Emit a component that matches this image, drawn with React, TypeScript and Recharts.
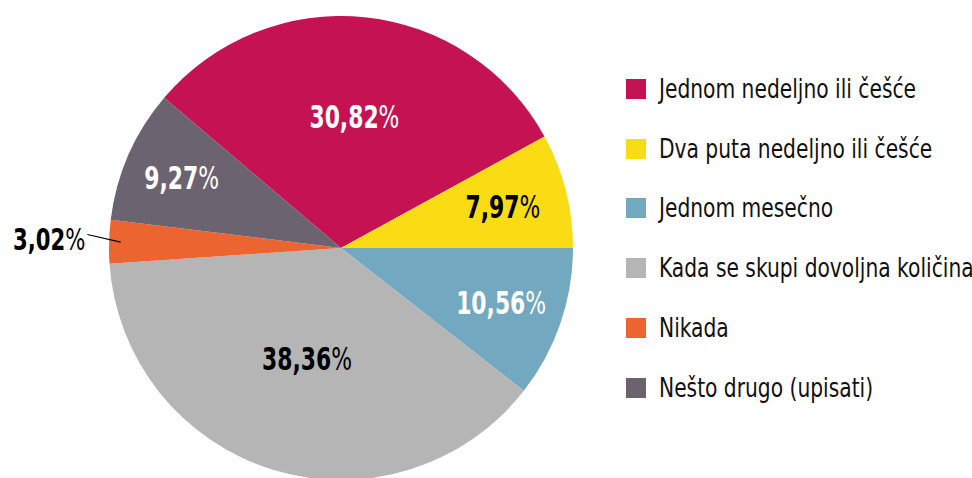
import React from 'react';
import { PieChart, Pie, Cell, Legend } from 'recharts';

const categories = [
  'Jednom nedeljno ili češće',
  'Dva puta nedeljno ili češće',
  'Jednom mesečno',
  'Kada se skupi dovoljna količina',
  'Nikada',
  'Nešto drugo (upisati)',
];
const shares = [30.82, 7.97, 10.56, 38.36, 3.02, 9.27];
const labels = ['30,82', '7,97', '10,56', '38,36', '3,02', '9,27'];

const colors = ['#C41252', '#FADC14', '#72A9C0', '#B5B5B5', '#EC6531', '#6C6370'];
const labelColors = ['#fff', '#000', '#fff', '#000', '#000', '#fff'];
// how far out along the radius each label sits
const labelRadius = [0.57, 0.72, 0.73, 0.5, 0, 0.75];

const FONT = '"DejaVu Sans Condensed", "DejaVu Sans", sans-serif';
const SQUEEZE = 0.76;
const RAD = Math.PI / 180;

const data = categories.map((name, i) => ({ name, value: shares[i], label: labels[i] }));

const renderLabel = (props: any) => {
  const { cx, cy, midAngle, outerRadius, index } = props;
  const text = (
    <>
      <tspan fontWeight={700}>{labels[index]}</tspan>
      <tspan fontWeight={400}>%</tspan>
    </>
  );
  if (index === 4) {
    // small slice: label outside with a leader line
    const x1 = cx + outerRadius * 0.95 * Math.cos(-midAngle * RAD);
    const y1 = cy + outerRadius * 0.95 * Math.sin(-midAngle * RAD);
    const x2 = cx + (outerRadius + 22) * Math.cos(-(midAngle - 1.5) * RAD);
    const y2 = cy + (outerRadius + 22) * Math.sin(-(midAngle - 1.5) * RAD);
    return (
      <g>
        <line x1={x1} y1={y1} x2={x2} y2={y2} stroke="#000" strokeWidth={1.2} />
        <text
          transform={`translate(${x2 - 2},${y2 + 4}) scale(${SQUEEZE},1)`}
          textAnchor="end"
          dominantBaseline="central"
          fill="#000"
          fontFamily={FONT}
          fontSize={31}
        >
          {text}
        </text>
      </g>
    );
  }
  const r = outerRadius * labelRadius[index];
  const x = cx + r * Math.cos(-midAngle * RAD);
  const y = cy + r * Math.sin(-midAngle * RAD);
  return (
    <text
      transform={`translate(${x},${y}) scale(${SQUEEZE},1)`}
      textAnchor="middle"
      dominantBaseline="central"
      fill={labelColors[index]}
      fontFamily={FONT}
      fontSize={32}
    >
      {text}
    </text>
  );
};

const renderLegend = () => (
  <div style={{ fontFamily: FONT }}>
    {categories.map((name, i) => (
      <div
        key={name}
        style={{ display: 'flex', alignItems: 'center', height: 59.8, fontSize: 26, color: '#111', whiteSpace: 'nowrap' }}
      >
        <div style={{ width: 20, height: 20, background: colors[i], marginRight: 13, flex: 'none' }} />
        <span style={{ display: 'inline-block', transform: 'scaleX(0.865)', transformOrigin: 'left center' }}>
          {name}
        </span>
      </div>
    ))}
  </div>
);

const start = 28.7 + shares[0] * 3.6;

export default function App() {
  return (
    <div style={{ position: 'absolute', left: 0, top: 0, background: '#fff' }}>
      <PieChart width={972} height={478} margin={{ top: 0, right: 0, bottom: 0, left: 0 }}>
        <Pie
          data={data}
          dataKey="value"
          nameKey="name"
          cx={341}
          cy={248}
          outerRadius={232}
          startAngle={start}
          endAngle={start - 360}
          stroke="none"
          label={renderLabel}
          labelLine={false}
          isAnimationActive={false}
        >
          {data.map((d, i) => (
            <Cell key={d.name} fill={colors[i]} />
          ))}
        </Pie>
        <Legend
          content={renderLegend}
          layout="vertical"
          wrapperStyle={{ left: 626, top: 59, width: 346 }}
        />
      </PieChart>
    </div>
  );
}
